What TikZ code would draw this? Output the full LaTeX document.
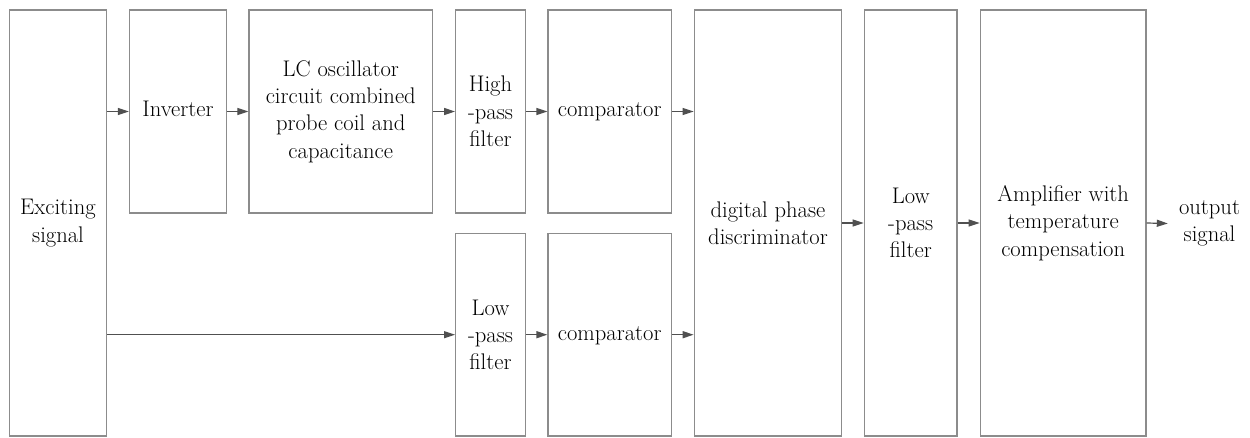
\documentclass[tikz,border=0pt]{standalone}
\usetikzlibrary{arrows.meta,calc}
\begin{document}
\begin{tikzpicture}[x=1pt,y=-1pt,
  box/.style={draw=boxgray, line width=1.3pt, inner sep=0pt, align=center,
    font=\fontsize{22.6}{27.3}\selectfont},
  arr/.style={draw=arrgray, line width=1.2pt, -{Triangle[length=11pt,width=7pt]}},
  lbl/.style={inner sep=0pt, inner xsep=11pt, align=center, font=\fontsize{22.6}{27.3}\selectfont}]
\definecolor{boxgray}{RGB}{140,140,140}
\definecolor{arrgray}{RGB}{80,80,80}
\useasboundingbox (0,0) rectangle (1250,437);
\node[box, minimum width=97pt, minimum height=426pt] (exc) at (58,223) {Exciting\\signal};
\node[box, minimum width=97pt, minimum height=203pt] (inv) at (178,111.5) {Inverter\strut};
\node[box, minimum width=183.5pt, minimum height=203pt] (lc) at (340.75,111.5) {LC oscillator\\circuit combined\\probe coil and\\capacitance};
\node[box, minimum width=69.6pt, minimum height=203pt] (hpf) at (490.5,111.5) {High\\-pass\\filter};
\node[box, minimum width=123.3pt, minimum height=203pt] (cmpa) at (609.7,111.5) {comparator\strut};
\node[box, minimum width=69.6pt, minimum height=202.7pt] (lpfa) at (490.5,334.7) {Low\\-pass\\filter};
\node[box, minimum width=123.3pt, minimum height=202.7pt] (cmpb) at (609.7,334.7) {comparator\strut};
\node[box, minimum width=147.4pt, minimum height=426pt] (disc) at (768,223) {digital phase\\discriminator};
\node[box, minimum width=92.7pt, minimum height=426pt] (lpfb) at (910.7,223) {Low\\-pass\\filter};
\node[box, minimum width=165.7pt, minimum height=426pt] (amp) at (1063.2,223) {Amplifier with\\temperature\\compensation};
\node[lbl] (out) at (1209.5,223.5) {output\\signal};
\draw[arr] (exc.east |- inv.west) -- (inv.west);
\draw[arr] (inv.east) -- (lc.west);
\draw[arr] (lc.east) -- (hpf.west);
\draw[arr] (hpf.east) -- (cmpa.west);
\draw[arr] (cmpa.east) -- (cmpa.east -| disc.west);
\draw[arr] (exc.east |- lpfa.west) -- (lpfa.west);
\draw[arr] (lpfa.east) -- (cmpb.west);
\draw[arr] (cmpb.east) -- (cmpb.east -| disc.west);
\draw[arr] (disc.east) -- (lpfb.west);
\draw[arr] (lpfb.east) -- (amp.west);
\draw[arr] (amp.east) -- (out.west);
\end{tikzpicture}
\end{document}
